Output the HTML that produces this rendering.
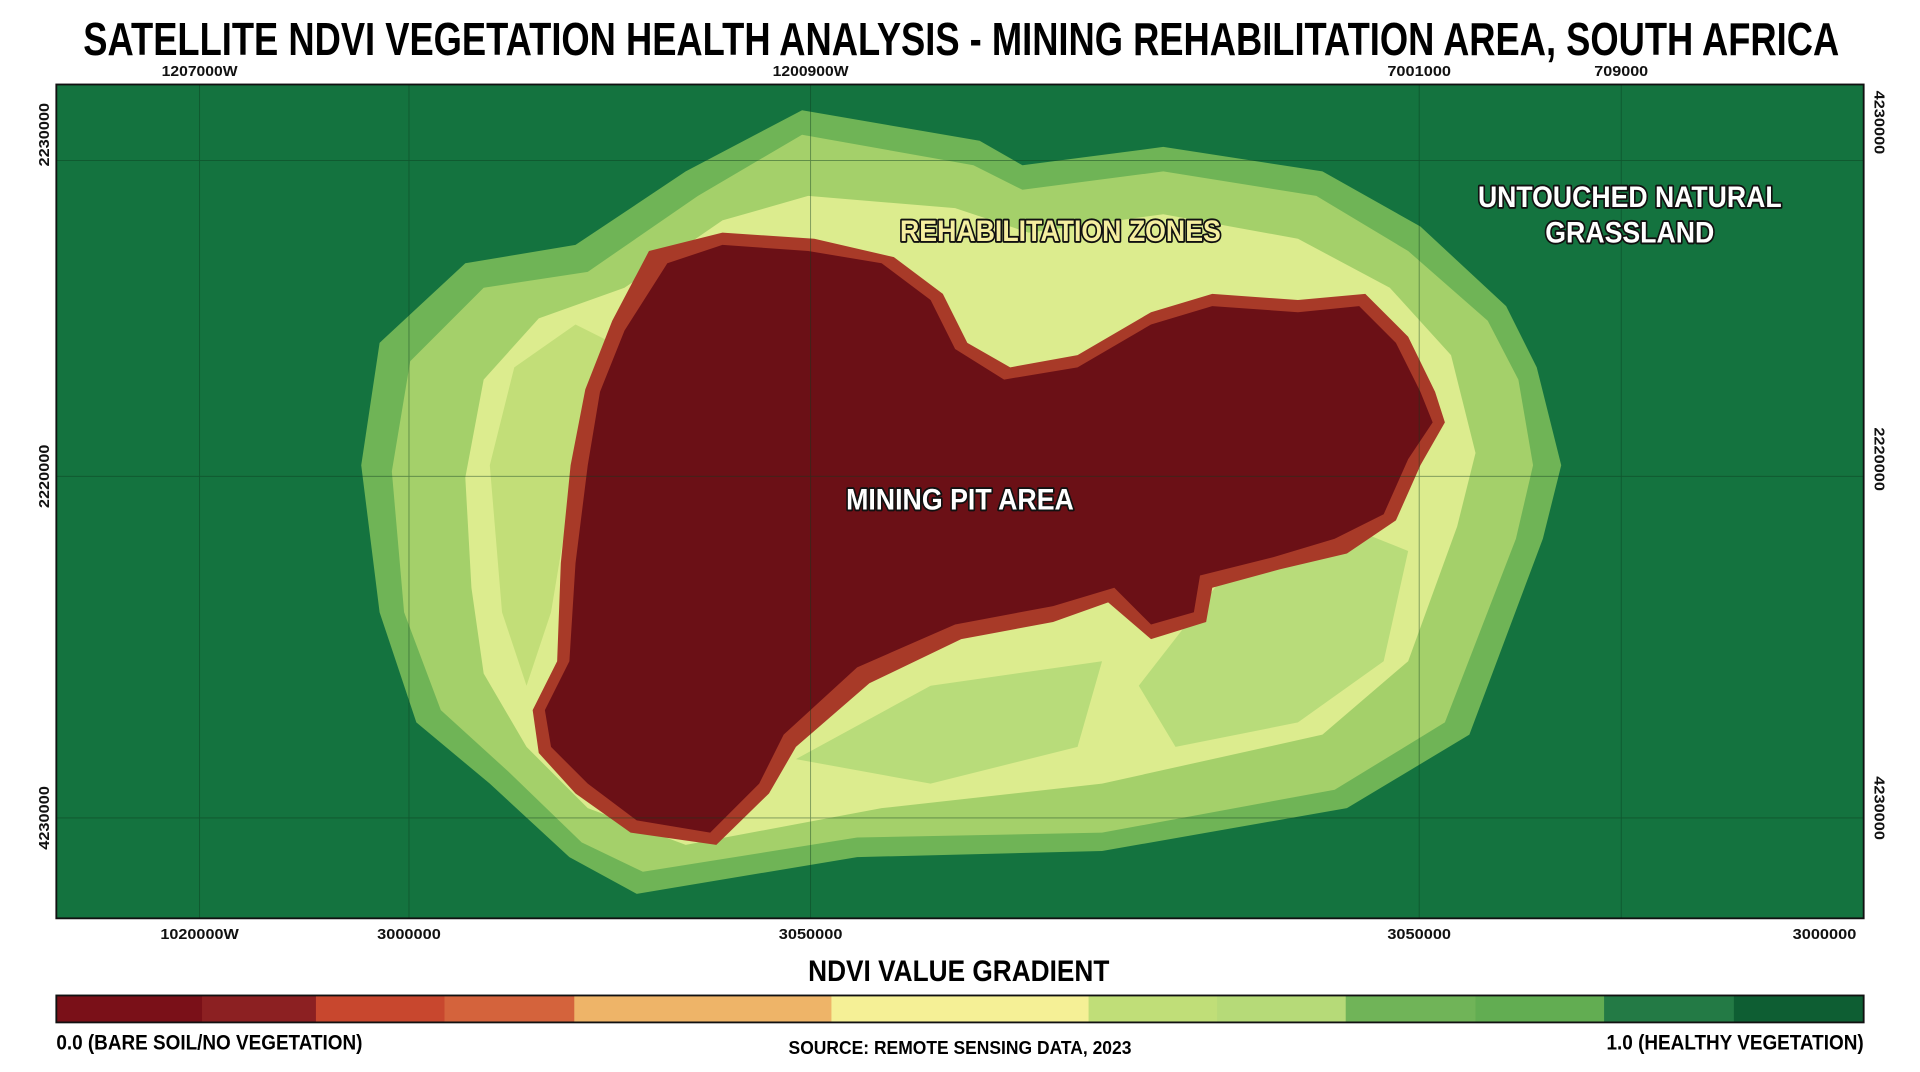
<!DOCTYPE html>
<html><head><meta charset="utf-8"><style>
html,body{margin:0;padding:0;background:#fff;}
svg{display:block;}
text{font-family:"Liberation Sans Narrow","Liberation Sans",sans-serif;font-weight:bold;}
</style></head><body>
<svg width="1920" height="1072" viewBox="0 0 1568 875.5" preserveAspectRatio="none" xmlns="http://www.w3.org/2000/svg">
<rect x="0" y="0" width="1568" height="876" fill="#fff"/>
<text x="785" y="45" text-anchor="middle" font-size="38" textLength="1434" lengthAdjust="spacingAndGlyphs" fill="#000">SATELLITE NDVI VEGETATION HEALTH ANALYSIS - MINING REHABILITATION AREA, SOUTH AFRICA</text>
<!-- top labels -->
<g font-size="12" fill="#111" text-anchor="middle" font-weight="normal">
<text x="163" y="62" textLength="62" lengthAdjust="spacingAndGlyphs">1207000W</text>
<text x="662" y="62" textLength="62" lengthAdjust="spacingAndGlyphs">1200900W</text>
<text x="1159" y="62" textLength="52" lengthAdjust="spacingAndGlyphs">7001000</text>
<text x="1324" y="62" textLength="44" lengthAdjust="spacingAndGlyphs">709000</text>
<text x="163" y="767" textLength="64" lengthAdjust="spacingAndGlyphs">1020000W</text>
<text x="334" y="767" textLength="52" lengthAdjust="spacingAndGlyphs">3000000</text>
<text x="662" y="767" textLength="52" lengthAdjust="spacingAndGlyphs">3050000</text>
<text x="1159" y="767" textLength="52" lengthAdjust="spacingAndGlyphs">3050000</text>
<text x="1490" y="767" textLength="52" lengthAdjust="spacingAndGlyphs">3000000</text>
<text transform="translate(40,110) rotate(-90)" textLength="52" lengthAdjust="spacingAndGlyphs">2230000</text>
<text transform="translate(40,389) rotate(-90)" textLength="52" lengthAdjust="spacingAndGlyphs">2220000</text>
<text transform="translate(40,668) rotate(-90)" textLength="52" lengthAdjust="spacingAndGlyphs">4230000</text>
<text transform="translate(1531,100) rotate(90)" textLength="52" lengthAdjust="spacingAndGlyphs">4230000</text>
<text transform="translate(1531,375) rotate(90)" textLength="52" lengthAdjust="spacingAndGlyphs">2220000</text>
<text transform="translate(1531,660) rotate(90)" textLength="52" lengthAdjust="spacingAndGlyphs">4230000</text>
</g>
<!-- map -->
<rect x="46" y="69" width="1476" height="681" fill="#14733f"/>
<polygon fill="#6fb456" points="295,380 310,280 380,215 470,200 560,140 655,90 800,115 835,135 950,120 1080,140 1160,185 1230,250 1255,300 1275,380 1260,440 1200,600 1100,660 900,695 700,700 520,730 465,700 400,640 340,590 310,500"/>
<polygon fill="#a4d06a" points="320,385 335,295 395,235 480,222 570,160 655,110 795,135 835,155 950,140 1075,160 1150,205 1215,262 1240,310 1252,380 1238,440 1180,590 1090,645 900,680 700,684 525,712 475,688 415,630 360,580 330,500"/>
<polygon fill="#dcec8e" points="380,390 395,310 440,260 510,235 590,180 660,160 780,170 840,190 950,175 1060,195 1135,235 1185,290 1205,370 1190,430 1150,540 1080,600 900,640 720,660 560,690 480,660 430,610 395,550 385,480"/>
<polygon fill="#b8dc7a" points="1000,470 1100,430 1150,450 1130,540 1060,590 960,610 930,560"/>
<polygon fill="#b8dc7a" points="650,620 760,560 900,540 880,610 760,640"/>
<polygon fill="#c2de78" points="400,380 420,300 470,265 500,280 470,380 450,500 430,560 410,500"/>
<polygon fill="#a83a28" points="530,205 590,190 665,195 730,210 770,240 790,280 825,300 880,290 940,255 990,240 1060,245 1115,240 1150,275 1172,320 1180,345 1160,380 1140,425 1100,452 1045,465 990,480 985,508 940,522 905,492 860,508 785,522 710,558 650,610 628,648 585,690 515,680 470,648 440,615 435,580 455,540 458,460 466,380 478,318 500,262"/>
<polygon fill="#6b1016" points="545,215 590,200 660,205 720,215 760,245 780,285 820,310 880,300 940,265 990,250 1060,255 1110,250 1140,280 1160,320 1170,345 1150,375 1130,420 1090,440 1040,455 980,470 975,500 940,510 910,480 860,495 780,510 700,545 640,600 620,640 580,680 520,670 480,640 450,610 445,580 465,540 470,460 480,380 490,320 510,270"/>
<g stroke="#0c3a1e" stroke-width="0.7" opacity="0.5">
<line x1="163" y1="69" x2="163" y2="750"/><line x1="334" y1="69" x2="334" y2="750"/>
<line x1="662" y1="69" x2="662" y2="750"/><line x1="1159" y1="69" x2="1159" y2="750"/>
<line x1="1324" y1="69" x2="1324" y2="750"/>
<line x1="46" y1="131" x2="1522" y2="131"/><line x1="46" y1="389" x2="1522" y2="389"/><line x1="46" y1="668" x2="1522" y2="668"/>
</g>
<rect x="46" y="69" width="1476" height="681" fill="none" stroke="#111" stroke-width="1.5"/>
<g font-size="24" text-anchor="middle" stroke="#111" stroke-width="3" paint-order="stroke" stroke-linejoin="round">
<text x="866" y="197" fill="#f5eea0" textLength="262" lengthAdjust="spacingAndGlyphs">REHABILITATION ZONES</text>
<text x="1331" y="169" fill="#fff" textLength="248" lengthAdjust="spacingAndGlyphs">UNTOUCHED NATURAL</text>
<text x="1331" y="198" fill="#fff" textLength="138" lengthAdjust="spacingAndGlyphs">GRASSLAND</text>
<text x="784" y="416" fill="#fff" textLength="186" lengthAdjust="spacingAndGlyphs">MINING PIT AREA</text>
</g>
<!-- legend -->
<text x="783" y="801" text-anchor="middle" font-size="24" textLength="246" lengthAdjust="spacingAndGlyphs">NDVI VALUE GRADIENT</text>
<g>
<rect x="46" y="813" width="120" height="22" fill="#7a1018"/>
<rect x="165" y="813" width="94" height="22" fill="#8c2022"/>
<rect x="258" y="813" width="106" height="22" fill="#c8472e"/>
<rect x="363" y="813" width="107" height="22" fill="#d4633c"/>
<rect x="469" y="813" width="211" height="22" fill="#eeb468"/>
<rect x="679" y="813" width="211" height="22" fill="#f5f096"/>
<rect x="889" y="813" width="106" height="22" fill="#c0de78"/>
<rect x="994" y="813" width="106" height="22" fill="#b6da78"/>
<rect x="1099" y="813" width="107" height="22" fill="#70b458"/>
<rect x="1205" y="813" width="106" height="22" fill="#62ad52"/>
<rect x="1310" y="813" width="107" height="22" fill="#237a45"/>
<rect x="1416" y="813" width="106" height="22" fill="#0e5e33"/>
<rect x="46" y="813" width="1476" height="22" fill="none" stroke="#111" stroke-width="1.5"/>
</g>
<text x="46" y="857" font-size="17" textLength="250" lengthAdjust="spacingAndGlyphs">0.0 (BARE SOIL/NO VEGETATION)</text>
<text x="784" y="861" text-anchor="middle" font-size="15" textLength="280" lengthAdjust="spacingAndGlyphs">SOURCE: REMOTE SENSING DATA, 2023</text>
<text x="1522" y="857" text-anchor="end" font-size="17" textLength="210" lengthAdjust="spacingAndGlyphs">1.0 (HEALTHY VEGETATION)</text>
</svg>
</body></html>
